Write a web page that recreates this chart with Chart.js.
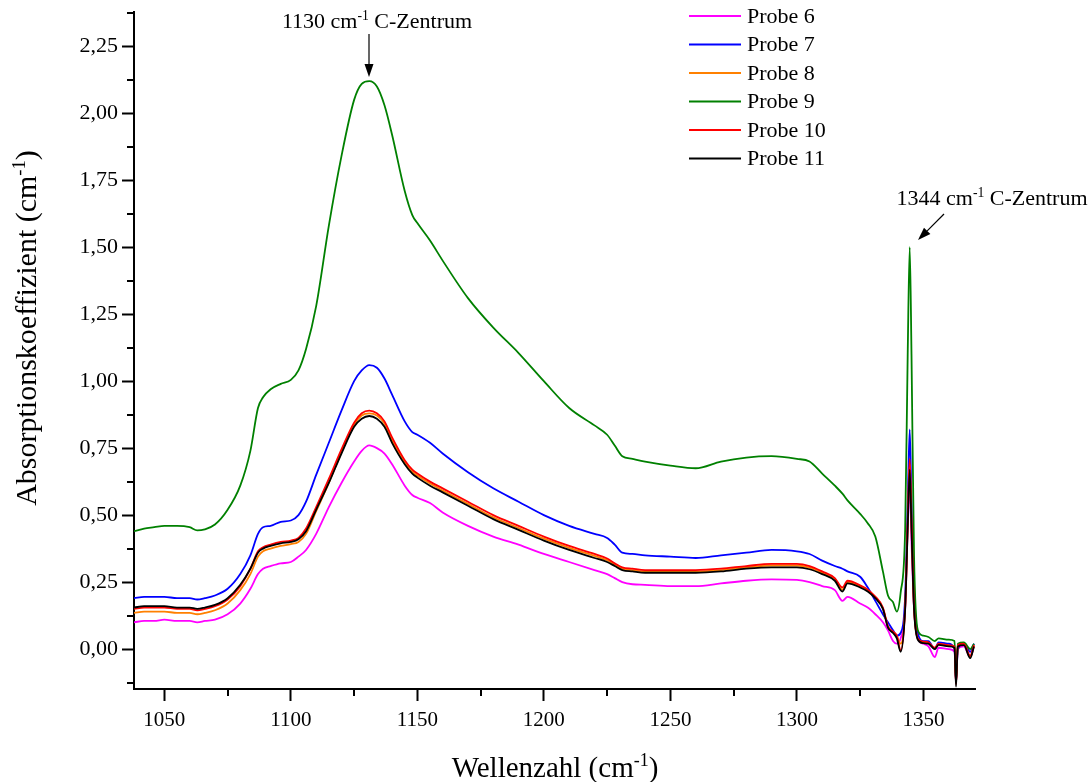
<!DOCTYPE html>
<html>
<head>
<meta charset="utf-8">
<script src="https://cdn.jsdelivr.net/npm/chart.js@4.4.1/dist/chart.umd.min.js"></script>
<style>
  html, body { margin: 0; padding: 0; background: #fff; }
  canvas { display: block; }
</style>
</head>
<body>
<canvas id="spectrum" width="1092" height="782"></canvas>
<script>
// --- DATA ---
const wavenumbers = [1038, 1042, 1046, 1050, 1055, 1060, 1063, 1066, 1070, 1075,
  1080, 1084, 1087, 1089, 1092, 1096, 1100, 1103, 1106, 1110,
  1115, 1120, 1125, 1128, 1131, 1134, 1137, 1140, 1145, 1148,
  1150, 1155, 1160, 1170, 1180, 1190, 1200, 1210, 1220, 1225,
  1228, 1231, 1235, 1240, 1250, 1260, 1270, 1280, 1290, 1300,
  1305, 1310, 1315, 1318, 1320, 1325, 1328, 1331, 1334, 1336,
  1338, 1339.5, 1341, 1342.8, 1343.8, 1344.6, 1345.3, 1346.3, 1347.8, 1350,
  1352, 1354.5, 1356, 1360, 1362.3, 1362.9, 1363.6, 1366, 1368.5, 1370];

const probe6 = [0.10, 0.105, 0.105, 0.11, 0.105, 0.105, 0.10, 0.105, 0.11, 0.13,
  0.17, 0.225, 0.28, 0.30, 0.31, 0.32, 0.325, 0.345, 0.37, 0.43,
  0.53, 0.62, 0.70, 0.74, 0.76, 0.75, 0.73, 0.69, 0.61, 0.575,
  0.565, 0.545, 0.51, 0.46, 0.42, 0.39, 0.355, 0.325, 0.295, 0.28,
  0.265, 0.25, 0.242, 0.24, 0.235, 0.235, 0.245, 0.255, 0.26, 0.258,
  0.25, 0.235, 0.22, 0.18, 0.195, 0.17, 0.155, 0.13, 0.10, 0.07,
  0.03, 0.02, 0.04, 0.15, 0.45, 0.62, 0.40, 0.15, 0.04, 0.02,
  0.01, -0.03, 0.005, 0.0, -0.01, -0.13, 0.0, 0.01, -0.03, 0.01];

const probe7 = [0.19, 0.195, 0.195, 0.195, 0.19, 0.19, 0.185, 0.19, 0.20, 0.225,
  0.28, 0.35, 0.43, 0.455, 0.46, 0.475, 0.48, 0.50, 0.55, 0.65,
  0.77, 0.89, 1.00, 1.04, 1.06, 1.05, 1.01, 0.95, 0.85, 0.81,
  0.80, 0.77, 0.73, 0.66, 0.60, 0.55, 0.50, 0.46, 0.43, 0.415,
  0.39, 0.36, 0.355, 0.35, 0.345, 0.34, 0.35, 0.36, 0.37, 0.365,
  0.355, 0.33, 0.31, 0.30, 0.29, 0.27, 0.23, 0.18, 0.13, 0.10,
  0.07, 0.05, 0.06, 0.20, 0.55, 0.82, 0.55, 0.20, 0.06, 0.03,
  0.03, 0.0, 0.025, 0.02, 0.0, -0.12, 0.0, 0.02, -0.01, 0.02];

const probe8 = [0.135, 0.14, 0.14, 0.14, 0.135, 0.135, 0.13, 0.135, 0.145, 0.17,
  0.22, 0.28, 0.345, 0.365, 0.375, 0.385, 0.392, 0.40, 0.43, 0.515,
  0.62, 0.735, 0.838, 0.872, 0.88, 0.872, 0.842, 0.78, 0.698, 0.662,
  0.648, 0.618, 0.592, 0.542, 0.492, 0.452, 0.412, 0.378, 0.348, 0.332,
  0.316, 0.30, 0.295, 0.29, 0.29, 0.29, 0.295, 0.305, 0.312, 0.312,
  0.304, 0.285, 0.26, 0.222, 0.25, 0.234, 0.218, 0.193, 0.152, 0.082,
  0.062, 0.048, 0.02, 0.155, 0.46, 0.69, 0.46, 0.155, 0.038, 0.025,
  0.022, 0.002, 0.018, 0.012, 0.008, -0.13, 0.012, 0.018, -0.03, 0.012];

const probe9 = [0.44, 0.45, 0.455, 0.46, 0.46, 0.455, 0.443, 0.447, 0.465, 0.52,
  0.61, 0.74, 0.90, 0.94, 0.97, 0.99, 1.005, 1.04, 1.12, 1.28,
  1.58, 1.84, 2.05, 2.11, 2.12, 2.10, 2.03, 1.92, 1.71, 1.62,
  1.59, 1.525, 1.45, 1.31, 1.20, 1.105, 1.00, 0.90, 0.835, 0.80,
  0.76, 0.72, 0.71, 0.70, 0.685, 0.675, 0.70, 0.715, 0.72, 0.71,
  0.70, 0.655, 0.61, 0.58, 0.555, 0.505, 0.47, 0.42, 0.29, 0.20,
  0.175, 0.14, 0.21, 0.45, 1.10, 1.50, 1.10, 0.35, 0.07, 0.05,
  0.045, 0.03, 0.04, 0.035, 0.03, -0.12, 0.02, 0.025, 0.0, 0.02];

const probe10 = [0.15, 0.155, 0.155, 0.155, 0.15, 0.15, 0.145, 0.15, 0.16, 0.185,
  0.235, 0.30, 0.365, 0.38, 0.39, 0.40, 0.405, 0.415, 0.45, 0.53,
  0.635, 0.745, 0.845, 0.88, 0.89, 0.88, 0.85, 0.79, 0.705, 0.67,
  0.655, 0.625, 0.60, 0.55, 0.50, 0.46, 0.42, 0.385, 0.355, 0.338,
  0.32, 0.305, 0.30, 0.295, 0.295, 0.295, 0.30, 0.31, 0.318, 0.318,
  0.31, 0.29, 0.265, 0.23, 0.255, 0.238, 0.222, 0.196, 0.155, 0.085,
  0.065, 0.05, -0.005, 0.16, 0.48, 0.71, 0.48, 0.16, 0.04, 0.028,
  0.025, 0.005, 0.02, 0.015, 0.01, -0.13, 0.015, 0.02, -0.025, 0.015];

const probe11 = [0.155, 0.16, 0.16, 0.16, 0.155, 0.155, 0.15, 0.155, 0.165, 0.19,
  0.24, 0.30, 0.36, 0.375, 0.385, 0.395, 0.40, 0.41, 0.44, 0.52,
  0.62, 0.73, 0.83, 0.86, 0.87, 0.86, 0.83, 0.77, 0.69, 0.655,
  0.64, 0.61, 0.585, 0.535, 0.485, 0.445, 0.405, 0.37, 0.34, 0.325,
  0.31, 0.295, 0.29, 0.285, 0.285, 0.285, 0.29, 0.30, 0.305, 0.305,
  0.298, 0.28, 0.255, 0.215, 0.245, 0.23, 0.215, 0.19, 0.15, 0.08,
  0.06, 0.04, -0.01, 0.15, 0.45, 0.67, 0.45, 0.15, 0.035, 0.022,
  0.02, 0.0, 0.016, 0.01, 0.005, -0.14, 0.01, 0.015, -0.034, 0.01];

const seriesNames  = ['Probe 6', 'Probe 7', 'Probe 8', 'Probe 9', 'Probe 10', 'Probe 11'];
const seriesColors = ['#ff00ff', '#0000ff', '#ff8000', '#008000', '#ff0000', '#000000'];
const seriesValues = [probe6, probe7, probe8, probe9, probe10, probe11];

const xMajorTicks = [1050, 1100, 1150, 1200, 1250, 1300, 1350];
const xMinorTicks = [1075, 1125, 1175, 1225, 1275, 1325];
const yMajorTicks = [0, 0.25, 0.5, 0.75, 1.0, 1.25, 1.5, 1.75, 2.0, 2.25];
const yMinorTicks = [-0.125, 0.125, 0.375, 0.625, 0.875, 1.125, 1.375, 1.625, 1.875, 2.125, 2.375];

const FONT = 'Liberation Serif';

// draws text with a superscript part, parts = [{t, sup}]
function drawRich(ctx, parts, x, y, size, align) {
  let total = 0;
  parts.forEach(p => {
    ctx.font = (p.sup ? size * 0.62 : size) + 'px "' + FONT + '"';
    p.w = ctx.measureText(p.t).width;
    total += p.w;
  });
  let cx = align === 'center' ? x - total / 2 : x;
  ctx.textAlign = 'left';
  ctx.textBaseline = 'alphabetic';
  parts.forEach(p => {
    ctx.font = (p.sup ? size * 0.62 : size) + 'px "' + FONT + '"';
    ctx.fillText(p.t, cx, p.sup ? y - size * 0.38 : y);
    cx += p.w;
  });
}

function drawArrow(ctx, x1, y1, x2, y2) {
  const ang = Math.atan2(y2 - y1, x2 - x1);
  const hl = 13, hw = 4.5;
  const bx = x2 - hl * Math.cos(ang), by = y2 - hl * Math.sin(ang);
  ctx.strokeStyle = '#000';
  ctx.lineWidth = 1.2;
  ctx.beginPath();
  ctx.moveTo(x1, y1);
  ctx.lineTo(bx, by);
  ctx.stroke();
  ctx.fillStyle = '#000';
  ctx.beginPath();
  ctx.moveTo(x2, y2);
  ctx.lineTo(bx - hw * Math.sin(ang), by + hw * Math.cos(ang));
  ctx.lineTo(bx + hw * Math.sin(ang), by - hw * Math.cos(ang));
  ctx.closePath();
  ctx.fill();
}

const decorations = {
  id: 'decorations',
  afterDraw(chart) {
    const ctx = chart.ctx;
    const xs = chart.scales.x, ys = chart.scales.y;
    const area = chart.chartArea;
    ctx.save();

    // minor ticks
    ctx.strokeStyle = '#000';
    ctx.lineWidth = 2;
    xMinorTicks.forEach(v => {
      const px = Math.round(xs.getPixelForValue(v));
      ctx.beginPath();
      ctx.moveTo(px, area.bottom);
      ctx.lineTo(px, area.bottom + 7);
      ctx.stroke();
    });
    yMinorTicks.forEach(v => {
      const py = Math.round(ys.getPixelForValue(v));
      ctx.beginPath();
      ctx.moveTo(area.left, py);
      ctx.lineTo(area.left - 7, py);
      ctx.stroke();
    });

    // legend
    seriesNames.forEach((name, i) => {
      const y = 16 + i * 28.5;
      ctx.strokeStyle = seriesColors[i];
      ctx.lineWidth = 2;
      ctx.beginPath();
      ctx.moveTo(689, y);
      ctx.lineTo(741, y);
      ctx.stroke();
      ctx.font = '22px "' + FONT + '"';
      ctx.textAlign = 'left';
      ctx.textBaseline = 'middle';
      ctx.fillStyle = '#000';
      ctx.fillText(name, 747, y + 1);
    });

    // annotations
    ctx.fillStyle = '#000';
    drawRich(ctx, [{ t: '1130 cm' }, { t: '-1', sup: true }, { t: ' C-Zentrum' }], 377, 28, 22, 'center');
    drawArrow(ctx, 369, 34, 369, 77);
    drawRich(ctx, [{ t: '1344 cm' }, { t: '-1', sup: true }, { t: ' C-Zentrum' }], 992, 205, 22, 'center');
    drawArrow(ctx, 944, 214, 918, 240);

    // axis titles
    drawRich(ctx, [{ t: 'Wellenzahl (cm' }, { t: '-1', sup: true }, { t: ')' }], 555, 777, 29, 'center');
    ctx.translate(36, 328);
    ctx.rotate(-Math.PI / 2);
    drawRich(ctx, [{ t: 'Absorptionskoeffizient (cm' }, { t: '-1', sup: true }, { t: ')' }], 0, 0, 30, 'center');

    ctx.restore();
  }
};

const datasets = seriesNames.map((name, i) => ({
  label: name,
  data: wavenumbers.map((x, k) => ({ x: x, y: seriesValues[i][k] })),
  borderColor: seriesColors[i],
  backgroundColor: seriesColors[i],
  borderWidth: 1.8,
  pointRadius: 0,
  cubicInterpolationMode: 'monotone',
  order: seriesNames.length - i
}));

new Chart(document.getElementById('spectrum'), {
  type: 'line',
  data: { datasets },
  options: {
    responsive: false,
    animation: false,
    layout: { padding: { top: 12, right: 117, left: 0, bottom: 0 } },
    plugins: { legend: { display: false }, tooltip: { enabled: false } },
    scales: {
      x: {
        type: 'linear',
        min: 1038,
        max: 1370.4,
        afterBuildTicks: s => { s.ticks = xMajorTicks.map(v => ({ value: v })); },
        afterFit: s => { s.height = 93; s.paddingLeft = 0; s.paddingRight = 0; },
        grid: { drawOnChartArea: false, drawTicks: true, tickLength: 12, tickWidth: 2, tickColor: '#000' },
        border: { display: true, color: '#000', width: 2 },
        ticks: {
          color: '#000',
          font: { family: FONT, size: 21 },
          padding: 7,
          maxRotation: 0,
          callback: v => String(v)
        }
      },
      y: {
        type: 'linear',
        min: -0.149,
        max: 2.378,
        afterBuildTicks: s => { s.ticks = yMajorTicks.map(v => ({ value: v })); },
        afterFit: s => { s.width = 134; s.paddingTop = 0; s.paddingBottom = 0; },
        grid: { drawOnChartArea: false, drawTicks: true, tickLength: 12, tickWidth: 2, tickColor: '#000' },
        border: { display: true, color: '#000', width: 2 },
        ticks: {
          color: '#000',
          font: { family: FONT, size: 22 },
          padding: 4,
          callback: v => v.toFixed(2).replace('.', ',')
        }
      }
    }
  },
  plugins: [decorations]
});
</script>
</body>
</html>
